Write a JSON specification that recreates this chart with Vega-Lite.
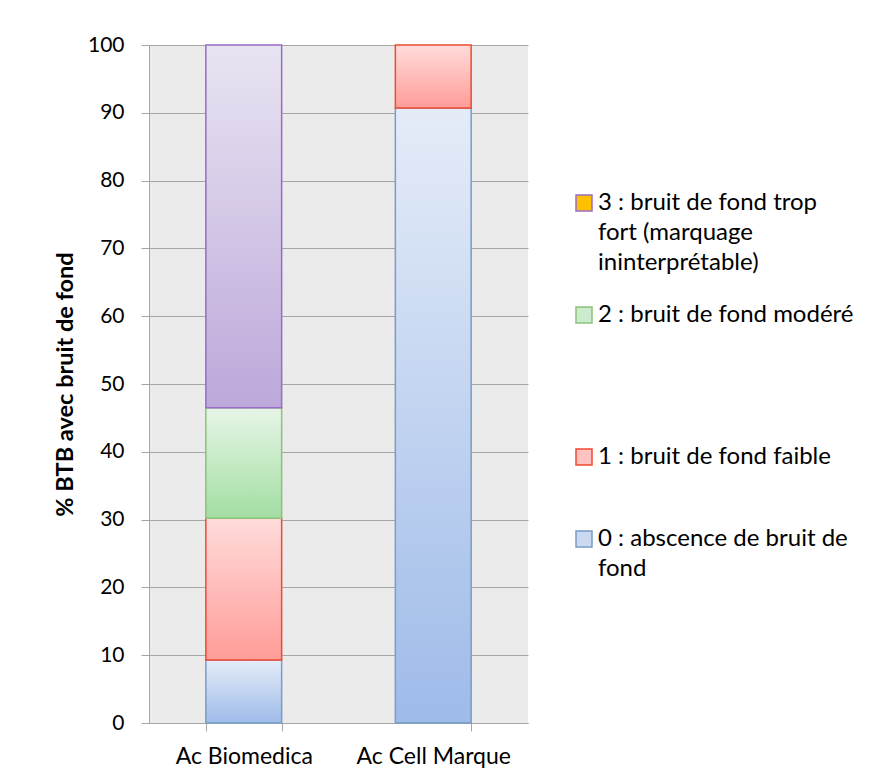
{
  "$schema": "https://vega.github.io/schema/vega-lite/v6.json",
  "width": 379,
  "height": 678,
  "autosize": {"type": "none"},
  "padding": {"left": 149, "top": 45, "right": 346, "bottom": 61},
  "background": "white",
  "config": {
    "view": {"fill": "#ebebeb", "stroke": null},
    "font": "Lato",
    "style": {"guide-label": {"lineHeight": 30}}
  },
  "data": {
    "values": [
      {"firm": "Ac Biomedica", "cat": "0", "value": 9.3},
      {"firm": "Ac Biomedica", "cat": "1", "value": 20.9},
      {"firm": "Ac Biomedica", "cat": "2", "value": 16.3},
      {"firm": "Ac Biomedica", "cat": "3", "value": 53.5},
      {"firm": "Ac Cell Marque", "cat": "0", "value": 90.7},
      {"firm": "Ac Cell Marque", "cat": "1", "value": 9.3}
    ]
  },
  "transform": [
    {"stack": "value", "groupby": ["firm"], "sort": [{"field": "cat", "order": "ascending"}], "as": ["v0", "v1"]}
  ],
  "encoding": {
    "x": {
      "field": "firm", "type": "nominal", "sort": ["Ac Biomedica", "Ac Cell Marque"],
      "scale": {"paddingInner": 0.6, "paddingOuter": 0.3},
      "axis": {"title": null, "labelAngle": 0, "labelFontSize": 23, "labelColor": "#000", "labelPadding": 14,
               "domainColor": "#a6a6a6", "tickColor": "#a6a6a6", "tickSize": 8, "tickBand": "extent", "grid": false}
    },
    "y": {
      "field": "v1", "type": "quantitative", "scale": {"domain": [0, 100]},
      "axis": {"title": "% BTB avec bruit de fond", "titleFontSize": 23.5, "titleFontWeight": "bold", "titleColor": "#000",
               "titlePadding": 10, "values": [0, 10, 20, 30, 40, 50, 60, 70, 80, 90, 100],
               "labelFontSize": 21, "labelColor": "#000", "labelPadding": 17, "tickSize": 8,
               "tickColor": "#a6a6a6", "domainColor": "#a6a6a6", "gridColor": "#a6a6a6", "gridWidth": 1}
    },
    "y2": {"field": "v0"},
    "stroke": {
      "field": "cat", "type": "nominal",
      "scale": {"domain": ["3", "2", "1", "0"], "range": ["#9a6bc6", "#8cc17a", "#f04a30", "#7a9cc6"]},
      "legend": {
        "orient": "none", "legendX": 423, "legendY": 146, "title": null,
        "symbolType": "square", "symbolSize": 256, "symbolStrokeWidth": 1.5,
        "labelFontSize": 24, "labelColor": "#000", "labelLimit": 400, "labelOffset": 2, "rowPadding": 28,
        "labelExpr": "datum.value == '3' ? ['3 : bruit de fond trop', 'fort (marquage', 'ininterprétable)'] : datum.value == '2' ? ['2 : bruit de fond modéré', ' ', ' ', ' '] : datum.value == '1' ? ['1 : bruit de fond faible', ' '] : ['0 : abscence de bruit de', 'fond']"
      }
    }
  },
  "layer": [
    {
      "transform": [{"filter": "datum.cat == '0'"}],
      "mark": {"type": "bar", "strokeWidth": 1.5, "fill": {"gradient": "linear", "x1": 0, "y1": 0, "x2": 0, "y2": 1, "stops": [{"offset": 0, "color": "#e5ecf8"}, {"offset": 1, "color": "#9ebbe9"}]}}
    },
    {
      "transform": [{"filter": "datum.cat == '1'"}],
      "mark": {"type": "bar", "strokeWidth": 1.5, "fill": {"gradient": "linear", "x1": 0, "y1": 0, "x2": 0, "y2": 1, "stops": [{"offset": 0, "color": "#ffdcdb"}, {"offset": 1, "color": "#ff9c98"}]}}
    },
    {
      "transform": [{"filter": "datum.cat == '2'"}],
      "mark": {"type": "bar", "strokeWidth": 1.5, "fill": {"gradient": "linear", "x1": 0, "y1": 0, "x2": 0, "y2": 1, "stops": [{"offset": 0, "color": "#e7f5e7"}, {"offset": 1, "color": "#a2dea2"}]}}
    },
    {
      "transform": [{"filter": "datum.cat == '3'"}],
      "mark": {"type": "bar", "strokeWidth": 1.5, "fill": {"gradient": "linear", "x1": 0, "y1": 0, "x2": 0, "y2": 1, "stops": [{"offset": 0, "color": "#e9e4f2"}, {"offset": 1, "color": "#bca8da"}]}}
    },
    {
      "transform": [{"filter": "false"}],
      "mark": {"type": "bar", "strokeWidth": 1.5},
      "encoding": {
        "fill": {
          "field": "cat", "type": "nominal",
          "scale": {"domain": ["3", "2", "1", "0"], "range": ["#ffc000", "#cdeccd", "#ffc4c2", "#cbd9f1"]},
          "legend": {
            "orient": "none", "legendX": 423, "legendY": 146, "title": null,
            "symbolType": "square", "symbolSize": 256, "symbolStrokeWidth": 1.5,
            "labelFontSize": 24, "labelColor": "#000", "labelLimit": 400, "labelOffset": 2, "rowPadding": 28,
            "labelExpr": "datum.value == '3' ? ['3 : bruit de fond trop', 'fort (marquage', 'ininterprétable)'] : datum.value == '2' ? ['2 : bruit de fond modéré', ' ', ' ', ' '] : datum.value == '1' ? ['1 : bruit de fond faible', ' '] : ['0 : abscence de bruit de', 'fond']"
          }
        }
      }
    }
  ]
}
